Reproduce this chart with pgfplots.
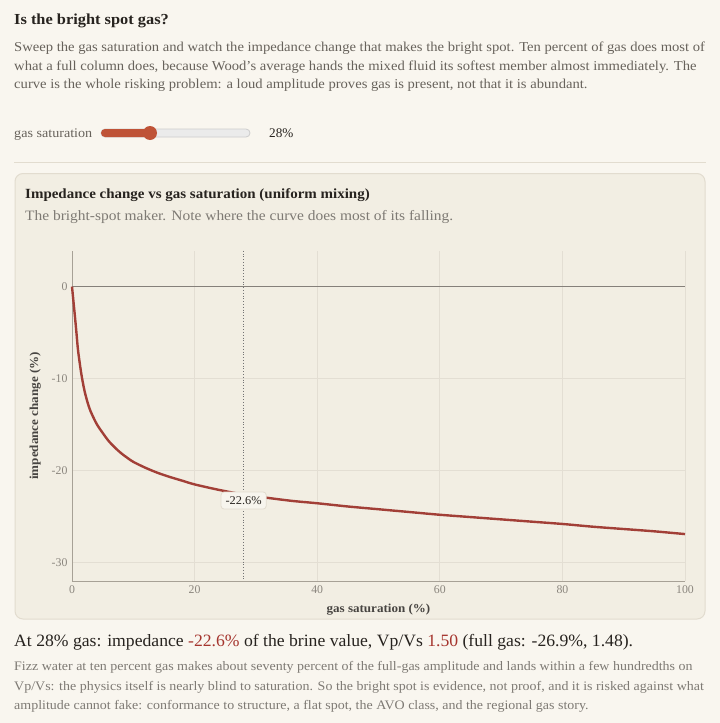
\documentclass[border=0pt]{standalone}
\usepackage{graphicx}
\usepackage{pgfplots}
\pgfplotsset{compat=1.18}
\usepackage{fontspec}
\setmainfont{Liberation Serif}
\definecolor{pagebg}{HTML}{F9F6EF}
\definecolor{cardbg}{HTML}{F2EEE3}
\definecolor{cardline}{HTML}{E2DCCF}
\definecolor{gridc}{HTML}{E3DED3}
\definecolor{axisc}{HTML}{A7A196}
\definecolor{zeroc}{HTML}{85807A}
\definecolor{curvec}{HTML}{A23F37}
\definecolor{slidec}{HTML}{BF5337}
\definecolor{textdark}{HTML}{27231F}
\definecolor{textgray}{HTML}{67625B}
\definecolor{ticktext}{HTML}{8A857D}
\definecolor{redtext}{HTML}{A5352E}
\newcommand{\W}[2]{\scalebox{#1}[1]{#2}}
\begin{document}
\begin{tikzpicture}[x=1pt,y=-1pt]
\path[use as bounding box, fill=pagebg] (0,0) rectangle (720,723);
% header
\node[anchor=base west, inner sep=0, font=\fontsize{15.3}{18}\selectfont\bfseries, text=textdark] at (14,24) {\W{1.07}{Is the bright spot gas?}};
\begin{scope}[every node/.style={anchor=base west, inner sep=0, font=\fontsize{13.6}{16}\selectfont, text=textgray}]
\node at (14,51) {\W{1.075}{Sweep the gas saturation and watch the impedance change that makes the bright spot. Ten percent of gas does most of}};
\node at (14,70) {\W{1.075}{what a full column does, because Wood's average hands the mixed fluid its softest member almost immediately. The}};
\node at (14,88.5) {\W{1.075}{curve is the whole risking problem: a loud amplitude proves gas is present, not that it is abundant.}};
\end{scope}
% slider
\node[anchor=base west, inner sep=0, font=\fontsize{13.2}{15}\selectfont, text=textgray] at (14,137) {\W{1.07}{gas saturation}};
\fill[fill=black!8, draw=black!20, line width=0.8pt, rounded corners=4] (101,129) rectangle (250,137);
\fill[slidec, rounded corners=4] (101,129) rectangle (152,137);
\fill[slidec] (150,133) circle (7);
\node[anchor=base west, inner sep=0, font=\fontsize{13.2}{15}\selectfont, text=textdark] at (269,137) {28\%};
% divider
\draw[cardline, line width=1pt] (14,162) -- (706,162);
% card
\draw[fill=cardbg, draw=cardline, line width=1pt, rounded corners=8] (15,173.5) rectangle (705,619);
\node[anchor=base west, inner sep=0, font=\fontsize{14}{16}\selectfont\bfseries, text=textdark] at (25,198.5) {\W{1.07}{Impedance change vs gas saturation (uniform mixing)}};
\node[anchor=base west, inner sep=0, font=\fontsize{14.3}{16}\selectfont, text=textgray!85] at (25,220.5) {\W{1.08}{The bright-spot maker. Note where the curve does most of its falling.}};
% axis
\begin{axis}[
  at={(72pt,-581pt)}, anchor=south west,
  scale only axis, width=613pt, height=330.3pt,
  xmin=0, xmax=100, ymin=-32, ymax=3.9,
  xtick={0,20,40,60,80,100}, ytick={-30,-20,-10,0},
  grid=major, major grid style={gridc, line width=0.8pt},
  axis line style={axisc, line width=0.9pt},
  axis x line*=bottom, axis y line*=left,
  tick style={draw=none},
  /pgf/number format/assume math mode=true,
  ticklabel style={font=\fontsize{11.8}{13}\selectfont, text=ticktext},
  xticklabel style={yshift=-1pt},
  yticklabel style={xshift=-1pt},
  xlabel={\W{1.07}{gas saturation (\%)}},
  ylabel={\W{1.07}{impedance change (\%)}},
  label style={font=\fontsize{12.2}{13}\selectfont\bfseries, text=textdark!85},
  xlabel style={at={(axis description cs:0.5,0)}, anchor=base, yshift=-31pt},
  ylabel style={at={(axis description cs:0,0.5)}, anchor=base, xshift=0pt, yshift=34pt},
  clip=false,
]
\addplot[zeroc, line width=1pt] coordinates {(0,0) (100,0)};
\addplot[black!55, line width=0.8pt, dotted] coordinates {(28,3.9) (28,-32)};
\addplot[curvec, line width=2.4pt, line join=round, smooth] coordinates {
(0,0) (0.25,-1.7) (0.5,-3.4) (0.75,-5.2) (1,-7.0) (1.5,-9.4) (2,-11.2) (2.5,-12.5) (3,-13.5)
(4,-14.9) (5,-15.9) (6,-16.8) (7,-17.5) (8,-18.1) (9,-18.6) (10,-19.05) (12,-19.7)
(14,-20.25) (16,-20.7) (18,-21.1) (20,-21.5) (24,-22.1) (28,-22.6) (32,-22.97)
(36,-23.3) (40,-23.55) (45,-23.9) (50,-24.2) (55,-24.5) (60,-24.8) (65,-25.05)
(70,-25.3) (75,-25.55) (80,-25.8) (85,-26.1) (90,-26.35) (95,-26.6) (100,-26.9)};
\node[fill=cardbg!60!white, draw=cardline, line width=0.8pt, rounded corners=3pt, inner xsep=4.5pt, inner ysep=4.5pt, font=\fontsize{11.8}{13}\selectfont, text=textdark, yshift=-6pt] at (axis cs:28,-22.6) {\W{1.05}{-22.6\%}};
\end{axis}
% bottom text
\node[anchor=base west, inner sep=0, font=\fontsize{17.3}{20}\selectfont, text=textdark] at (14,646.5) {\W{1.02}{At 28\% gas: impedance \textcolor{redtext}{-22.6\%} of the brine value, Vp/Vs \textcolor{redtext}{1.50} (full gas: -26.9\%, 1.48).}};
\begin{scope}[every node/.style={anchor=base west, inner sep=0, font=\fontsize{13}{15}\selectfont, text=textgray!85}]
\node at (14,670) {\W{1.075}{Fizz water at ten percent gas makes about seventy percent of the full-gas amplitude and lands within a few hundredths on}};
\node at (14,690) {\W{1.075}{Vp/Vs: the physics itself is nearly blind to saturation. So the bright spot is evidence, not proof, and it is risked against what}};
\node at (14,709) {\W{1.075}{amplitude cannot fake: conformance to structure, a flat spot, the AVO class, and the regional gas story.}};
\end{scope}
\end{tikzpicture}
\end{document}
